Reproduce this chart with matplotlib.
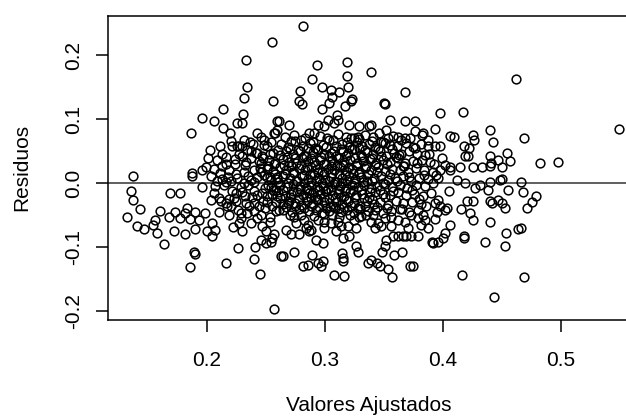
import numpy as np
import matplotlib
matplotlib.use("Agg")
import matplotlib.pyplot as plt

# residuals vs fitted values (fitted, residual)

# sparse points above the band
pts_top = [
    (0.2555, 0.2206), (0.2328, 0.193), (0.234, 0.151), (0.2313, 0.134), (0.2563, 0.128),
    (0.2138, 0.116), (0.2302, 0.108), (0.1959, 0.102), (0.2058, 0.0966), (0.2251, 0.094),
    (0.2294, 0.094), (0.2134, 0.087), (0.2191, 0.079), (0.1868, 0.078), (0.2597, 0.0966),
    (0.2577, 0.079), (0.2427, 0.078), (0.2455, 0.073), (0.2313, 0.068), (0.2024, 0.052),
    (0.2109, 0.0586), (0.2129, 0.046), (0.2214, 0.0575), (0.2257, 0.0575), (0.2300, 0.0575),
    (0.2483, 0.060), (0.2512, 0.0575), (0.2427, 0.047), (0.247, 0.042), (0.2342, 0.052),
    (0.237, 0.050),
    (0.2816, 0.245), (0.2932, 0.185), (0.319, 0.190), (0.3187, 0.168), (0.3391, 0.174),
    (0.2889, 0.163), (0.2972, 0.151), (0.3051, 0.146), (0.3122, 0.1425), (0.3193, 0.150),
    (0.2785, 0.144), (0.2781, 0.128), (0.2802, 0.124), (0.306, 0.1347), (0.3037, 0.126),
    (0.2974, 0.116), (0.317, 0.120), (0.3221, 0.129), (0.323, 0.1316), (0.350, 0.126),
    (0.3505, 0.124), (0.3675, 0.142), (0.3973, 0.110), (0.3102, 0.107), (0.3108, 0.099),
    (0.308, 0.094), (0.3023, 0.099), (0.2611, 0.0966), (0.2696, 0.091), (0.2597, 0.0836),
    (0.2569, 0.078), (0.2938, 0.091), (0.2994, 0.0888), (0.2866, 0.078), (0.2909, 0.078),
    (0.3207, 0.091), (0.3292, 0.0888), (0.3377, 0.0888), (0.3391, 0.091), (0.3547, 0.099),
    (0.3675, 0.0966), (0.3766, 0.098), (0.393, 0.085), (0.3519, 0.0836), (0.3619, 0.073),
    (0.3675, 0.0706), (0.376, 0.081), (0.3874, 0.068), (0.393, 0.0575), (0.3221, 0.0706),
    (0.3278, 0.073), (0.3477, 0.065), (0.3534, 0.0706),
]

# right hand side
pts_right = [
    (0.462, 0.163), (0.4166, 0.112), (0.549, 0.085), (0.4058, 0.074), (0.4095, 0.073),
    (0.4251, 0.0758), (0.4265, 0.068), (0.4398, 0.0825), (0.4427, 0.0638), (0.4688, 0.0706),
    (0.3973, 0.0575), (0.4177, 0.0575), (0.4223, 0.055), (0.4208, 0.0434), (0.4186, 0.042),
    (0.454, 0.048), (0.4569, 0.0356), (0.4398, 0.0434), (0.4407, 0.0316), (0.447, 0.0367),
    (0.4824, 0.0316), (0.4974, 0.033), (0.4015, 0.029), (0.4058, 0.025), (0.4143, 0.026),
    (0.4257, 0.026), (0.4328, 0.026), (0.4398, 0.027), (0.4498, 0.025),
    (0.3945, 0.0133), (0.3959, 0.008), (0.3917, 0.0), (0.4058, 0.021), (0.4115, 0.0055),
    (0.4186, 0.0), (0.4271, -0.0075), (0.4313, -0.0023), (0.4385, -0.010), (0.4398, 0.0028),
    (0.4483, 0.0055), (0.4498, 0.007), (0.4555, -0.011), (0.4662, 0.0023), (0.4674, -0.0138),
    (0.4787, -0.0195), (0.4753, -0.030), (0.4711, -0.0388), (0.405, -0.0128), (0.3959, -0.0258),
    (0.393, -0.031), (0.3973, -0.036), (0.403, -0.0388), (0.4015, -0.041), (0.4152, -0.040),
    (0.420, -0.0284), (0.4257, -0.0284), (0.4228, -0.0466), (0.4257, -0.058), (0.4398, -0.0284),
    (0.4413, -0.031), (0.447, -0.0258), (0.4498, -0.031), (0.4526, -0.0388), (0.4398, -0.0597),
    (0.4058, -0.065), (0.393, -0.056), (0.4015, -0.078), (0.4002, -0.0856), (0.3959, -0.091),
    (0.3917, -0.0934), (0.4177, -0.083), (0.4182, -0.085), (0.4356, -0.091), (0.4532, -0.078),
    (0.4526, -0.0977), (0.4634, -0.0716), (0.4662, -0.070), (0.4163, -0.144), (0.4688, -0.1466),
    (0.4432, -0.177),
]

# left hand side
pts_left = [
    (0.1377, 0.0117), (0.1874, 0.016), (0.1874, 0.0117), (0.1959, 0.020), (0.1988, 0.025),
    (0.2058, 0.022), (0.2129, 0.0275), (0.2237, 0.030), (0.1959, -0.006), (0.1357, -0.0128),
    (0.1377, -0.0258), (0.1428, -0.040), (0.1326, -0.052), (0.1411, -0.0675), (0.1462, -0.071),
    (0.1542, -0.065), (0.1556, -0.057), (0.1576, -0.078), (0.1598, -0.044), (0.1632, -0.095),
    (0.1689, -0.0153), (0.1768, -0.0153), (0.1675, -0.052), (0.1732, -0.0456), (0.1774, -0.0544),
    (0.1831, -0.0388), (0.1817, -0.0466), (0.186, -0.056), (0.1902, -0.0456), (0.193, -0.057),
    (0.1981, -0.0466), (0.2044, -0.062), (0.2066, -0.0727), (0.2044, -0.083), (0.2002, -0.0738),
    (0.1896, -0.0716), (0.1817, -0.079), (0.1717, -0.0738), (0.1888, -0.1066), (0.1902, -0.110),
    (0.186, -0.131), (0.2157, -0.1247), (0.2266, -0.101), (0.2294, -0.075), (0.2271, -0.062),
    (0.2285, -0.054), (0.2404, -0.0988), (0.2398, -0.118), (0.245, -0.141), (0.2498, -0.075),
    (0.2455, -0.088), (0.2498, -0.0934), (0.2555, -0.0856), (0.254, -0.091), (0.2569, -0.080),
    (0.2569, -0.196), (0.2626, -0.114),
    (0.2157, -0.031), (0.2171, -0.036), (0.2115, -0.0284), (0.210, -0.023), (0.2214, -0.0128),
    (0.2243, -0.0153), (0.2342, -0.0466), (0.2285, -0.0466), (0.2356, -0.036), (0.2398, -0.031),
    (0.2441, -0.036), (0.2455, -0.049), (0.2512, -0.0206), (0.2583, -0.044), (0.22, 0.003),
    (0.2257, 0.008), (0.2313, 0.0), (0.237, 0.0055), (0.2427, 0.0106), (0.2483, 0.0133),
    (0.254, 0.0055), (0.2597, 0.0106), (0.2398, -0.0128), (0.2427, -0.018), (0.247, -0.0153),
    (0.2228, -0.023),
    (0.2010, 0.040), (0.2085, 0.036), (0.2165, 0.041), (0.2235, 0.038), (0.2300, 0.043),
    (0.2370, 0.039), (0.2440, 0.035), (0.2035, 0.012), (0.2110, 0.016), (0.2180, 0.010),
    (0.2315, 0.018), (0.2395, 0.021), (0.2460, 0.017), (0.2070, -0.004), (0.2140, -0.002),
    (0.2290, -0.006), (0.2350, -0.003), (0.2490, -0.008), (0.2035, -0.026), (0.2190, -0.024),
    (0.2250, -0.028), (0.2475, -0.027), (0.2100, -0.045), (0.2185, -0.050), (0.2400, -0.043),
    (0.2530, -0.052),
    (0.2365, 0.064), (0.2480, 0.068), (0.2205, 0.066), (0.2325, 0.028), (0.2455, 0.031),
    (0.2520, 0.027), (0.2165, 0.002), (0.2520, -0.002), (0.2295, -0.014), (0.2560, -0.011),
    (0.2375, -0.062), (0.2465, -0.066), (0.2535, -0.060), (0.2220, -0.068),
]

# shoulders of the core band
pts_shoulder = [
    (0.2128, 0.006), (0.2188, 0.021), (0.2245, 0.015), (0.2272, 0.046), (0.2330, 0.033),
    (0.2348, 0.011), (0.2402, 0.002), (0.2412, 0.048), (0.2445, 0.024), (0.2478, 0.040),
    (0.2508, 0.010), (0.2532, 0.045), (0.2545, -0.006), (0.2572, 0.030), (0.2590, -0.020),
    (0.2205, -0.035), (0.2262, -0.041), (0.2318, -0.020), (0.2330, -0.031), (0.2382, -0.022),
    (0.2420, -0.055), (0.2488, -0.038), (0.2505, -0.030), (0.2555, -0.035), (0.2160, 0.030),
    (0.2085, 0.004), (0.2062, -0.015), (0.2275, 0.058), (0.2390, 0.061), (0.2540, 0.064),
    (0.2598, 0.052),
    (0.3625, 0.044), (0.3672, 0.027), (0.3712, 0.010), (0.3735, -0.010), (0.3780, 0.031),
    (0.3795, -0.024), (0.3838, 0.013), (0.3860, -0.036), (0.3885, 0.045), (0.3902, -0.015),
    (0.3928, 0.030), (0.3950, -0.045), (0.3975, 0.020), (0.3990, 0.040), (0.3655, -0.040),
    (0.3700, -0.070), (0.3760, 0.055), (0.3870, -0.070), (0.3640, 0.068), (0.3832, 0.078),
]

# lower part of the middle
pts_low = [
    (0.2734, -0.1075), (0.2648, -0.114), (0.281, -0.129), (0.2853, -0.127), (0.2887, -0.112),
    (0.2938, -0.1247), (0.2966, -0.129), (0.298, -0.121), (0.3074, -0.143), (0.3159, -0.1445),
    (0.3142, -0.109), (0.315, -0.117), (0.3152, -0.121), (0.3264, -0.0977), (0.3284, -0.1066),
    (0.3363, -0.1247), (0.3391, -0.1195), (0.3443, -0.1247), (0.3462, -0.129), (0.3534, -0.134),
    (0.3568, -0.147), (0.3483, -0.1066), (0.3505, -0.0977), (0.3519, -0.088), (0.3585, -0.112),
    (0.3655, -0.108), (0.3718, -0.129), (0.3746, -0.129), (0.3908, -0.0925), (0.2668, -0.0727),
    (0.2711, -0.080), (0.2781, -0.079), (0.2838, -0.070), (0.2866, -0.075), (0.2923, -0.088),
    (0.298, -0.0934), (0.2994, -0.070), (0.3094, -0.075), (0.315, -0.0856), (0.3207, -0.083),
    (0.3264, -0.070), (0.342, -0.070), (0.3477, -0.0675), (0.3562, -0.0675), (0.3576, -0.082),
    (0.3619, -0.083), (0.3661, -0.082), (0.3689, -0.083), (0.3732, -0.082), (0.3789, -0.083),
    (0.3845, -0.057), (0.3817, -0.065),
    (0.264, -0.0414), (0.2683, -0.031), (0.2739, -0.052), (0.2753, -0.062), (0.2824, -0.057),
    (0.2853, -0.065), (0.2881, -0.0727), (0.2938, -0.057), (0.2994, -0.0597), (0.3051, -0.062),
    (0.3108, -0.0597), (0.3136, -0.0675), (0.3193, -0.0675), (0.3249, -0.057), (0.3292, -0.052),
    (0.3349, -0.049), (0.3391, -0.0597), (0.3449, -0.062), (0.3505, -0.054), (0.3562, -0.052),
    (0.3619, -0.057), (0.3675, -0.0597), (0.3732, -0.049), (0.3789, -0.054), (0.3832, -0.049),
]

# dense core, row by row
core_x = [
    0.2665, 0.2740, 0.2828, 0.2960, 0.3018, 0.3110, 0.3175, 0.3250, 0.3340, 0.3405, 0.3460, 0.3580, 0.3720, 0.3820,
    0.2625, 0.2690, 0.2745, 0.2810, 0.2872, 0.2918, 0.2985, 0.3035, 0.3097, 0.3142, 0.3205, 0.3268, 0.3315, 0.3372,
    0.3425, 0.3488, 0.3552, 0.3610, 0.3688, 0.3745, 0.3812, 0.3870,
    0.2558, 0.2615, 0.2668, 0.2730, 0.2785, 0.2840, 0.2895, 0.2945, 0.2992, 0.3048, 0.3095, 0.3150, 0.3198, 0.3246,
    0.3302, 0.3355, 0.3408, 0.3462, 0.3520, 0.3585, 0.3648, 0.3710, 0.3778, 0.3850,
    0.2525, 0.2580, 0.2642, 0.2698, 0.2752, 0.2808, 0.2860, 0.2905, 0.2958, 0.3008, 0.3062, 0.3112, 0.3165, 0.3215,
    0.3268, 0.3322, 0.3380, 0.3435, 0.3495, 0.3555, 0.3618, 0.3682, 0.3745, 0.3818, 0.3890,
    0.2505, 0.2560, 0.2618, 0.2672, 0.2725, 0.2778, 0.2830, 0.2882, 0.2930, 0.2978, 0.3025, 0.3075, 0.3125, 0.3178,
    0.3230, 0.3285, 0.3338, 0.3392, 0.3448, 0.3508, 0.3570, 0.3635, 0.3700, 0.3768, 0.3840, 0.3915,
    0.2530, 0.2590, 0.2645, 0.2700, 0.2752, 0.2805, 0.2855, 0.2905, 0.2952, 0.3000, 0.3048, 0.3098, 0.3148, 0.3200,
    0.3252, 0.3305, 0.3360, 0.3415, 0.3472, 0.3532, 0.3595, 0.3660, 0.3728, 0.3800, 0.3875,
    0.2622, 0.2678, 0.2732, 0.2785, 0.2835, 0.2885, 0.2932, 0.2980, 0.3028, 0.3078, 0.3128, 0.3178, 0.3228, 0.3280,
    0.3332, 0.3388, 0.3445, 0.3505, 0.3568, 0.3632, 0.3698, 0.3770, 0.3845,
    0.2550, 0.2605, 0.2660, 0.2715, 0.2765, 0.2815, 0.2865, 0.2912, 0.2960, 0.3010, 0.3058, 0.3108, 0.3158, 0.3210,
    0.3262, 0.3315, 0.3370, 0.3428, 0.3488, 0.3550, 0.3615, 0.3685, 0.3755, 0.3830,
    0.2582, 0.2640, 0.2695, 0.2750, 0.2800, 0.2850, 0.2898, 0.2945, 0.2995, 0.3042, 0.3092, 0.3142, 0.3195, 0.3248,
    0.3300, 0.3355, 0.3412, 0.3470, 0.3532, 0.3598, 0.3665, 0.3738, 0.3815,
    0.2612, 0.2720, 0.2778, 0.2868, 0.2922, 0.2975, 0.3030, 0.3082, 0.3135, 0.3188, 0.3242, 0.3298, 0.3362, 0.3425,
    0.3490, 0.3560, 0.3632, 0.3708, 0.3785,
]
core_y = [
    0.072, 0.075, 0.070, 0.074, 0.071, 0.077, 0.073, 0.070, 0.076, 0.072, 0.078, 0.074, 0.071, 0.075,
    0.061, 0.057, 0.066, 0.059, 0.063, 0.055, 0.060, 0.067, 0.058, 0.062, 0.056, 0.064, 0.059, 0.061,
    0.057, 0.065, 0.060, 0.058, 0.063, 0.056, 0.061, 0.059,
    0.048, 0.044, 0.051, 0.046, 0.050, 0.043, 0.049, 0.052, 0.045, 0.048, 0.042, 0.050, 0.047, 0.053,
    0.044, 0.049, 0.046, 0.051, 0.043, 0.048, 0.045, 0.050, 0.046, 0.044,
    0.036, 0.032, 0.038, 0.034, 0.031, 0.039, 0.035, 0.033, 0.037, 0.030, 0.036, 0.040, 0.033, 0.037,
    0.031, 0.035, 0.038, 0.032, 0.036, 0.034, 0.039, 0.031, 0.035, 0.037, 0.033,
    0.023, 0.019, 0.025, 0.021, 0.018, 0.024, 0.020, 0.026, 0.022, 0.017, 0.023, 0.020, 0.025, 0.019,
    0.022, 0.018, 0.024, 0.021, 0.026, 0.019, 0.023, 0.020, 0.017, 0.024, 0.021, 0.018,
    0.010, 0.006, 0.012, 0.008, 0.004, 0.011, 0.007, 0.013, 0.009, 0.005, 0.010, 0.002, 0.008, 0.012,
    0.006, 0.010, 0.003, 0.009, 0.011, 0.005, 0.008, 0.012, 0.004, 0.009, 0.006,
    -0.003, -0.006, -0.001, -0.005, -0.008, -0.002, -0.006, -0.004, -0.009, -0.001, -0.005, -0.007, -0.003, -0.006,
    -0.002, -0.008, -0.004, -0.001, -0.006, -0.003, -0.007, -0.002, -0.005,
    -0.017, -0.014, -0.020, -0.016, -0.013, -0.019, -0.015, -0.021, -0.017, -0.012, -0.018, -0.015, -0.020, -0.014,
    -0.018, -0.016, -0.021, -0.013, -0.017, -0.019, -0.014, -0.018, -0.016, -0.020,
    -0.029, -0.033, -0.027, -0.031, -0.034, -0.028, -0.032, -0.026, -0.030, -0.035, -0.029, -0.033, -0.027, -0.031,
    -0.036, -0.028, -0.032, -0.030, -0.034, -0.027, -0.031, -0.029, -0.033,
    -0.042, -0.045, -0.040, -0.044, -0.041, -0.046, -0.043, -0.039, -0.045, -0.042, -0.047, -0.040, -0.044, -0.041,
    -0.046, -0.043, -0.040, -0.045, -0.042,
]

# second layer of the core, between the rows above
core2_x = [
    0.2712, 0.2798, 0.2902, 0.3068, 0.3188, 0.3290, 0.3398, 0.3512,
    0.2705, 0.2768, 0.2855, 0.2930, 0.3012, 0.3075, 0.3138, 0.3228, 0.3288, 0.3342, 0.3452, 0.3565,
    0.2675, 0.2745, 0.2822, 0.2878, 0.2968, 0.3030, 0.3118, 0.3182, 0.3255, 0.3315, 0.3395, 0.3478, 0.3602,
    0.2655, 0.2712, 0.2798, 0.2848, 0.2915, 0.2990, 0.3052, 0.3102, 0.3152, 0.3205, 0.3262, 0.3348, 0.3422, 0.3528, 0.3660,
    0.2578, 0.2662, 0.2740, 0.2820, 0.2872, 0.2940, 0.2995, 0.3062, 0.3115, 0.3172, 0.3238, 0.3292, 0.3365, 0.3440, 0.3555,
    0.2602, 0.2690, 0.2760, 0.2825, 0.2880, 0.2928, 0.2978, 0.3035, 0.3088, 0.3140, 0.3190, 0.3245, 0.3318, 0.3398, 0.3490, 0.3612,
    0.2585, 0.2648, 0.2725, 0.2792, 0.2845, 0.2898, 0.2950, 0.3002, 0.3052, 0.3118, 0.3170, 0.3235, 0.3302, 0.3385, 0.3462, 0.3580,
    0.2618, 0.2702, 0.2778, 0.2838, 0.2885, 0.2935, 0.2988, 0.3038, 0.3085, 0.3132, 0.3182, 0.3258, 0.3328, 0.3402, 0.3512,
    0.2668, 0.2742, 0.2818, 0.2880, 0.2948, 0.3012, 0.3068, 0.3118, 0.3165, 0.3222, 0.3278, 0.3342, 0.3445, 0.3522,
    0.2700, 0.2800, 0.2905, 0.2990, 0.3058, 0.3122, 0.3215, 0.3305, 0.3405,
]
core2_y = [
    0.066, 0.068, 0.064, 0.067, 0.065, 0.069, 0.066, 0.063,
    0.054, 0.052, 0.055, 0.053, 0.056, 0.051, 0.054, 0.053, 0.055, 0.052, 0.054, 0.053,
    0.041, 0.040, 0.042, 0.039, 0.041, 0.043, 0.040, 0.042, 0.039, 0.041, 0.040, 0.042, 0.041,
    0.028, 0.027, 0.029, 0.026, 0.028, 0.030, 0.027, 0.029, 0.028, 0.026, 0.029, 0.027, 0.028, 0.030, 0.027,
    0.015, 0.014, 0.016, 0.013, 0.015, 0.017, 0.014, 0.016, 0.015, 0.013, 0.016, 0.014, 0.015, 0.017, 0.014,
    0.002, 0.001, 0.003, 0.000, 0.002, 0.004, 0.001, 0.003, 0.002, 0.000, 0.003, 0.001, 0.002, 0.004, 0.001, 0.003,
    -0.011, -0.010, -0.012, -0.009, -0.011, -0.013, -0.010, -0.012, -0.011, -0.009, -0.012, -0.010, -0.011, -0.013, -0.010, -0.012,
    -0.023, -0.022, -0.024, -0.021, -0.023, -0.025, -0.022, -0.024, -0.023, -0.021, -0.024, -0.022, -0.023, -0.025, -0.022,
    -0.037, -0.036, -0.038, -0.035, -0.037, -0.039, -0.036, -0.038, -0.037, -0.035, -0.038, -0.036, -0.037, -0.039,
    -0.050, -0.049, -0.051, -0.048, -0.050, -0.052, -0.049, -0.051, -0.050,
]

x_ticks = [0.2, 0.3, 0.4, 0.5]
y_ticks = [-0.2, -0.1, 0.0, 0.1, 0.2]

plt.rcParams['font.family'] = ['Liberation Sans', 'DejaVu Sans']

pairs = np.array(pts_top + pts_right + pts_left + pts_shoulder + pts_low)
fitted = np.concatenate([pairs[:, 0], core_x, core2_x])
resid = np.concatenate([pairs[:, 1], core_y, core2_y])

fig = plt.figure(figsize=(6.26, 4.19), dpi=100)
W, H = 626, 419
# frame runs past the right edge of the picture (cropped R plot)
ax = fig.add_axes([108 / W, 1 - 320 / H, (630 - 108) / W, (320 - 16) / H])

ax.plot(fitted, resid, linestyle='none', marker='o', markersize=6.3,
        markerfacecolor='none', markeredgecolor='black', markeredgewidth=1.1)
ax.axhline(0, color='#333333', lw=1.1, zorder=0)

ax.set_xlim(0.1161, 0.5585)
ax.set_ylim(-0.2136, 0.2614)
ax.set_xticks(x_ticks)
ax.set_xticklabels([f"{v:.1f}" for v in x_ticks])
ax.set_yticks(y_ticks)
ax.set_yticklabels([f"{v:.1f}" for v in y_ticks], rotation=90, va='center')

ax.tick_params(axis='both', direction='out', length=8.6, width=1.1, labelsize=15, colors='black')
ax.tick_params(axis='x', pad=14)
ax.tick_params(axis='y', pad=9)
for side in ['left', 'bottom', 'top', 'right']:
    ax.spines[side].set_linewidth(1.1)
    ax.spines[side].set_color('black')

fig.text(369 / W, 1 - 405 / H, 'Valores Ajustados', ha='center', va='center', fontsize=15)
fig.text(22 / W, 1 - 167 / H, 'Residuos', rotation=90, ha='center', va='center', fontsize=15)

fig.savefig('out.png', dpi=100)
